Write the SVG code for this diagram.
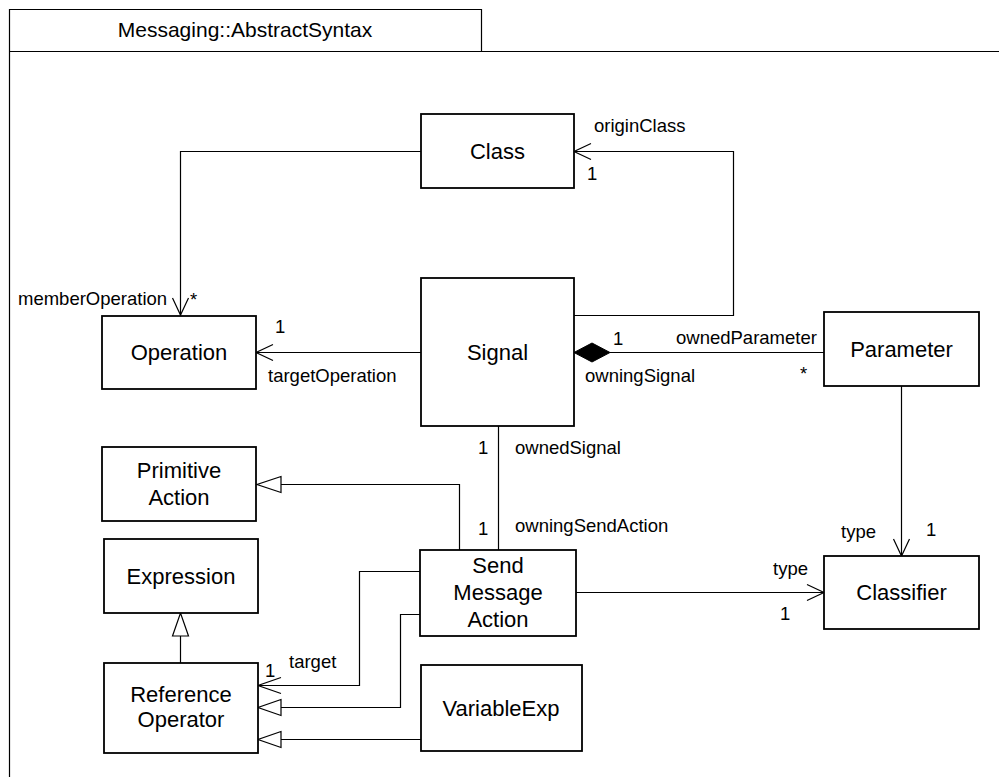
<svg xmlns="http://www.w3.org/2000/svg" width="999" height="777" viewBox="0 0 999 777">
<style>
.box{fill:#fff;stroke:#000;stroke-width:1.8}
.ln{fill:none;stroke:#000;stroke-width:1.2}
.nl{font-family:"Liberation Sans",Arial,sans-serif;font-size:22px;fill:#000;text-anchor:middle}
.rl{font-family:"Liberation Sans",Arial,sans-serif;font-size:18.5px;fill:#000}
.tt{font-family:"Liberation Sans",Arial,sans-serif;font-size:21px;fill:#000;text-anchor:middle}
</style>
<rect width="999" height="777" fill="#fff"/>
<g id="frame">
<path d="M9.5,777 V9.5 H481.5 V51.5 M9.5,51.5 H999" fill="none" stroke="#000" stroke-width="1.2"/>
<text class="tt" x="245" y="37">Messaging::AbstractSyntax</text>
</g>
<g id="connectors">
<path class="ln" d="M421,151.5 H180.5 V315"/>
<path class="ln" d="M172.5,298 L180.5,315 L188.5,298"/>
<path class="ln" d="M421,352.5 H256"/>
<path class="ln" d="M273,344.5 L256,352.5 L273,360.5"/>
<path class="ln" d="M574,315.5 H733.5 V151.5 H574"/>
<path class="ln" d="M591,143.5 L574,151.5 L591,159.5"/>
<path class="ln" d="M610,352.5 H824"/>
<polygon points="574,352.5 592,343 610,352.5 592,362" fill="#000" stroke="#000" stroke-width="1"/>
<path class="ln" d="M901.5,386 V556"/>
<path class="ln" d="M893.5,539 L901.5,556 L909.5,539"/>
<path class="ln" d="M498.5,426 V550"/>
<path class="ln" d="M459.5,550 V484.5 H281"/>
<polygon points="281,476.5 257,484.5 281,492.5" fill="#fff" stroke="#000" stroke-width="1.2"/>
<path class="ln" d="M576,592.5 H824"/>
<path class="ln" d="M807,584.5 L824,592.5 L807,600.5"/>
<path class="ln" d="M180.5,663 V636"/>
<polygon points="172.5,636 180.5,613 188.5,636" fill="#fff" stroke="#000" stroke-width="1.2"/>
<path class="ln" d="M420,571.5 H359.5 V685.5 H258"/>
<path class="ln" d="M281,677.5 L258,685.5 L281,693.5"/>
<path class="ln" d="M420,614.5 H400.5 V707.5 H281"/>
<polygon points="281,699.5 258,707.5 281,715.5" fill="#fff" stroke="#000" stroke-width="1.2"/>
<path class="ln" d="M421,739.5 H281"/>
<polygon points="281,731.5 258,739.5 281,747.5" fill="#fff" stroke="#000" stroke-width="1.2"/>
<text class="rl" x="18" y="305">memberOperation</text>
<text class="rl" x="190" y="306">*</text>
<text class="rl" x="275" y="333">1</text>
<text class="rl" x="268" y="382">targetOperation</text>
<text class="rl" x="594" y="132">originClass</text>
<text class="rl" x="587" y="180">1</text>
<text class="rl" x="613" y="345">1</text>
<text class="rl" x="676" y="344">ownedParameter</text>
<text class="rl" x="585" y="382">owningSignal</text>
<text class="rl" x="800" y="380">*</text>
<text class="rl" x="841" y="538">type</text>
<text class="rl" x="926" y="536">1</text>
<text class="rl" x="478" y="454">1</text>
<text class="rl" x="515" y="454">ownedSignal</text>
<text class="rl" x="478" y="535">1</text>
<text class="rl" x="515" y="532">owningSendAction</text>
<text class="rl" x="773" y="575">type</text>
<text class="rl" x="780" y="620">1</text>
<text class="rl" x="265" y="677">1</text>
<text class="rl" x="289" y="668">target</text>
</g>
<g id="Class"><rect class="box" x="421" y="114" width="153" height="74"/><text class="nl" x="497.5" y="159">Class</text></g>
<g id="Operation"><rect class="box" x="102" y="316" width="154" height="73"/><text class="nl" x="179" y="360">Operation</text></g>
<g id="Signal"><rect class="box" x="421" y="278" width="153" height="148"/><text class="nl" x="497.5" y="360">Signal</text></g>
<g id="Parameter"><rect class="box" x="824" y="312" width="155" height="74"/><text class="nl" x="901.5" y="357">Parameter</text></g>
<g id="PrimitiveAction"><rect class="box" x="102" y="447" width="154" height="74"/><text class="nl" x="179" y="478">Primitive</text><text class="nl" x="179" y="505">Action</text></g>
<g id="Expression"><rect class="box" x="104" y="539" width="154" height="74"/><text class="nl" x="181" y="584">Expression</text></g>
<g id="SendMessageAction"><rect class="box" x="420" y="550" width="156" height="86"/><text class="nl" x="498" y="573">Send</text><text class="nl" x="498" y="600">Message</text><text class="nl" x="498" y="627">Action</text></g>
<g id="Classifier"><rect class="box" x="824" y="556" width="155" height="73"/><text class="nl" x="901.5" y="600">Classifier</text></g>
<g id="ReferenceOperator"><rect class="box" x="104" y="663" width="154" height="90"/><text class="nl" x="181" y="702">Reference</text><text class="nl" x="181" y="727">Operator</text></g>
<g id="VariableExp"><rect class="box" x="421" y="665" width="161" height="86"/><text class="nl" x="501" y="716">VariableExp</text></g>
</svg>
